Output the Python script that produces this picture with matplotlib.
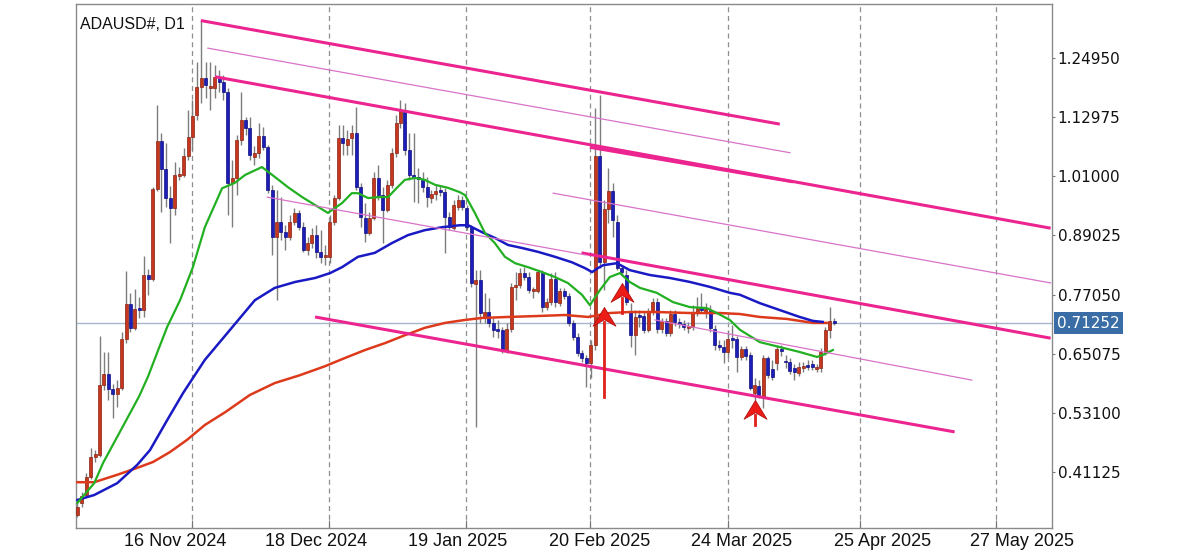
import matplotlib
matplotlib.use("Agg")
import matplotlib.pyplot as plt
import numpy as np
from matplotlib.path import Path
from matplotlib.transforms import blended_transform_factory

symbol = "ADAUSD#, D1"

# daily candles, bar index 0..171
opens = [
    0.324, 0.348, 0.364, 0.400, 0.441, 0.445, 0.587, 0.609, 0.579, 0.569,
    0.581, 0.680, 0.751, 0.703, 0.743, 0.739, 0.810, 0.802, 0.984, 1.082,
    1.025, 0.966, 0.946, 1.011, 1.013, 1.051, 1.090, 1.134, 1.191, 1.210,
    1.189, 1.189, 1.210, 1.201, 1.181, 0.997, 1.007, 1.084, 1.124, 1.108,
    1.049, 1.057, 1.092, 1.070, 0.982, 0.887, 0.918, 0.897, 0.887, 0.918,
    0.936, 0.907, 0.861, 0.875, 0.891, 0.857, 0.847, 0.847, 0.918, 0.966,
    1.088, 1.074, 1.088, 1.098, 0.988, 0.926, 0.895, 0.926, 1.007, 0.972,
    0.942, 0.993, 1.057, 1.118, 1.145, 1.064, 1.013, 1.009, 1.003, 0.988,
    0.966, 0.974, 0.982, 0.978, 0.928, 0.905, 0.948, 0.962, 0.946, 0.907,
    0.792, 0.800, 0.723, 0.735, 0.713, 0.701, 0.699, 0.658, 0.701, 0.786,
    0.790, 0.814, 0.806, 0.778, 0.778, 0.814, 0.745, 0.755, 0.802, 0.753,
    0.778, 0.768, 0.713, 0.684, 0.652, 0.642, 0.632, 0.668, 1.051, 0.836,
    0.944, 0.980, 0.918, 0.824, 0.810, 0.737, 0.688, 0.729, 0.727, 0.699,
    0.735, 0.755, 0.701, 0.717, 0.693, 0.731, 0.715, 0.711, 0.703, 0.705,
    0.733, 0.745, 0.733, 0.739, 0.701, 0.668, 0.664, 0.654, 0.682, 0.680,
    0.644, 0.660, 0.648, 0.571, 0.585, 0.563, 0.642, 0.620, 0.632, 0.660,
    0.636, 0.634, 0.622, 0.611, 0.622, 0.628, 0.630, 0.620, 0.622, 0.654,
    0.699, 0.716,
]
highs = [
    0.354, 0.370, 0.409, 0.459, 0.455, 0.686, 0.654, 0.654, 0.589, 0.597,
    0.694, 0.818, 0.774, 0.782, 0.765, 0.849, 0.822, 0.988, 1.155, 1.098,
    1.078, 0.991, 1.039, 1.029, 1.068, 1.145, 1.165, 1.242, 1.327, 1.242,
    1.242, 1.236, 1.226, 1.216, 1.189, 1.043, 1.094, 1.181, 1.130, 1.130,
    1.072, 1.118, 1.110, 1.074, 0.993, 0.982, 0.968, 0.911, 0.932, 0.946,
    0.942, 0.918, 0.887, 0.905, 0.911, 0.901, 0.871, 0.932, 0.972, 1.114,
    1.114, 1.104, 1.114, 1.151, 0.997, 0.956, 0.938, 1.019, 1.033, 0.988,
    1.003, 1.068, 1.134, 1.165, 1.159, 1.098, 1.098, 1.027, 1.019, 1.009,
    0.982, 0.993, 0.993, 0.987, 0.938, 0.962, 0.972, 0.970, 0.952, 0.911,
    0.820, 0.820, 0.774, 0.763, 0.723, 0.719, 0.705, 0.713, 0.794, 0.816,
    0.824, 0.826, 0.816, 0.786, 0.820, 0.820, 0.763, 0.814, 0.816, 0.784,
    0.784, 0.774, 0.719, 0.693, 0.658, 0.648, 0.678, 1.149, 1.175, 0.962,
    1.027, 0.997, 0.932, 0.830, 0.820, 0.753, 0.739, 0.739, 0.735, 0.743,
    0.763, 0.763, 0.723, 0.723, 0.739, 0.739, 0.723, 0.719, 0.715, 0.749,
    0.765, 0.774, 0.753, 0.749, 0.709, 0.678, 0.678, 0.699, 0.709, 0.686,
    0.666, 0.666, 0.654, 0.601, 0.597, 0.648, 0.646, 0.638, 0.668, 0.668,
    0.648, 0.642, 0.630, 0.634, 0.634, 0.638, 0.638, 0.630, 0.662, 0.705,
    0.745, 0.723,
]
lows = [
    0.320, 0.340, 0.360, 0.397, 0.431, 0.441, 0.577, 0.557, 0.520, 0.542,
    0.577, 0.672, 0.694, 0.699, 0.723, 0.725, 0.770, 0.798, 0.980, 0.938,
    0.948, 0.875, 0.932, 1.003, 1.009, 1.043, 1.064, 1.124, 1.159, 1.169,
    1.145, 1.169, 1.181, 1.165, 0.932, 0.907, 0.972, 1.074, 1.094, 1.043,
    1.033, 1.047, 1.064, 0.976, 0.851, 0.759, 0.881, 0.861, 0.881, 0.911,
    0.901, 0.857, 0.851, 0.865, 0.845, 0.834, 0.830, 0.834, 0.911, 0.962,
    1.053, 1.053, 1.053, 0.982, 0.907, 0.877, 0.891, 0.922, 0.962, 0.875,
    0.938, 0.987, 1.049, 1.108, 1.053, 1.003, 0.958, 0.956, 0.978, 0.948,
    0.956, 0.962, 0.970, 0.855, 0.901, 0.901, 0.942, 0.942, 0.901, 0.786,
    0.502, 0.713, 0.713, 0.705, 0.684, 0.682, 0.652, 0.652, 0.695, 0.759,
    0.784, 0.800, 0.774, 0.763, 0.774, 0.735, 0.739, 0.749, 0.745, 0.747,
    0.761, 0.707, 0.678, 0.646, 0.634, 0.583, 0.601, 0.658, 0.824, 0.780,
    0.915, 0.887, 0.820, 0.808, 0.749, 0.664, 0.648, 0.705, 0.693, 0.695,
    0.729, 0.693, 0.693, 0.686, 0.686, 0.707, 0.703, 0.699, 0.693, 0.699,
    0.727, 0.733, 0.723, 0.695, 0.658, 0.658, 0.632, 0.644, 0.662, 0.613,
    0.638, 0.638, 0.577, 0.557, 0.561, 0.540, 0.601, 0.597, 0.618, 0.646,
    0.622, 0.609, 0.597, 0.605, 0.613, 0.618, 0.618, 0.613, 0.613, 0.648,
    0.682, 0.709,
]
closes = [
    0.340, 0.362, 0.400, 0.441, 0.447, 0.587, 0.609, 0.579, 0.569, 0.581,
    0.680, 0.751, 0.703, 0.741, 0.739, 0.810, 0.802, 0.984, 1.082, 1.025,
    0.966, 0.946, 1.013, 1.015, 1.051, 1.090, 1.133, 1.191, 1.210, 1.195,
    1.193, 1.212, 1.201, 1.181, 0.997, 1.007, 1.084, 1.124, 1.108, 1.053,
    1.057, 1.092, 1.070, 0.982, 0.887, 0.918, 0.897, 0.887, 0.918, 0.936,
    0.907, 0.861, 0.875, 0.891, 0.857, 0.847, 0.851, 0.918, 0.966, 1.088,
    1.078, 1.086, 1.098, 0.988, 0.928, 0.895, 0.926, 1.007, 0.972, 0.942,
    0.993, 1.057, 1.118, 1.145, 1.064, 1.013, 1.007, 1.005, 0.988, 0.968,
    0.974, 0.980, 0.978, 0.928, 0.907, 0.952, 0.962, 0.948, 0.907, 0.794,
    0.800, 0.733, 0.735, 0.713, 0.699, 0.697, 0.658, 0.701, 0.786, 0.790,
    0.814, 0.806, 0.780, 0.782, 0.816, 0.745, 0.755, 0.802, 0.755, 0.778,
    0.768, 0.713, 0.684, 0.652, 0.642, 0.632, 0.668, 1.051, 0.836, 0.944,
    0.980, 0.922, 0.824, 0.816, 0.755, 0.688, 0.725, 0.725, 0.699, 0.735,
    0.755, 0.701, 0.717, 0.693, 0.731, 0.715, 0.711, 0.705, 0.707, 0.733,
    0.743, 0.739, 0.741, 0.703, 0.668, 0.664, 0.654, 0.680, 0.678, 0.644,
    0.660, 0.646, 0.581, 0.587, 0.567, 0.642, 0.607, 0.603, 0.660, 0.656,
    0.634, 0.615, 0.613, 0.624, 0.626, 0.624, 0.624, 0.624, 0.654, 0.699,
    0.717, 0.71252,
]

# moving averages (bar index, price)
ma_fast_x = [0, 3.8, 5.8, 9.0, 11.9, 14.0, 16.0, 18.0, 20.3, 23.2, 26.1, 28.8, 32.7,
             35.6, 37.9, 41.7, 44.6, 47.6, 50.8, 53.7, 56.6, 59.8, 62.0, 63.4,
             65.7, 67.9, 70.2, 72.2, 74.0, 76.3, 78.5, 80.8, 83.7, 86.4, 87.6,
             89.8, 92.1, 94.3, 96.6, 98.9, 101.8, 105.0, 107.9, 110.8, 114.0,
             115.8, 118.1, 120.3, 122.6, 124.8, 127.1, 130.9, 134.6, 138.4,
             142.2, 144.5, 147.4, 149.7, 154.2, 158.7, 163.2, 167.1, 168.4, 170.7]
ma_fast_y = [0.348, 0.388, 0.429, 0.482, 0.530, 0.565, 0.605, 0.652, 0.705, 0.759, 0.826,
             0.907, 0.986, 0.997, 1.013, 1.029, 1.009, 0.988, 0.968, 0.952, 0.936,
             0.956, 0.976, 0.976, 0.966, 0.968, 0.968, 0.987, 1.003, 1.007, 1.003,
             0.993, 0.987, 0.978, 0.972, 0.936, 0.895, 0.875, 0.847, 0.834, 0.826,
             0.816, 0.806, 0.794, 0.770, 0.749, 0.780, 0.806, 0.814, 0.796, 0.784,
             0.774, 0.755, 0.745, 0.743, 0.733, 0.719, 0.699, 0.674, 0.664, 0.654,
             0.644, 0.648, 0.658]

ma_mid_x = [0, 3.8, 9.0, 13.5, 16.4, 20.3, 23.9, 28.8, 34.5, 40.1, 44.6, 49.2,
            53.7, 57.1, 59.8, 63.4, 67.2, 71.1, 74.7, 78.5, 82.4, 86.4, 88.3,
            91.4, 94.4, 97.3, 100.4, 104.1, 107.9, 111.7, 114.7, 116.3, 117.6,
            118.8, 121.9, 124.8, 129.4, 133.9, 138.4, 142.9, 147.4, 149.7,
            154.2, 158.7, 163.2, 166.2, 168.4]
ma_mid_y = [0.354, 0.364, 0.388, 0.425, 0.455, 0.516, 0.571, 0.638, 0.699, 0.759,
            0.784, 0.796, 0.804, 0.814, 0.826, 0.847, 0.855, 0.875, 0.891, 0.901,
            0.907, 0.911, 0.911, 0.897, 0.885, 0.871, 0.865, 0.857, 0.847, 0.836,
            0.824, 0.816, 0.824, 0.830, 0.834, 0.820, 0.810, 0.804, 0.796, 0.786,
            0.774, 0.770, 0.753, 0.739, 0.725, 0.717, 0.715]

ma_slow_x = [0, 3.8, 9.0, 13.5, 17.1, 20.9, 24.8, 28.8, 33.4, 39.0, 44.6, 50.3,
             55.9, 60.5, 65.0, 69.5, 74.0, 78.5, 83.1, 87.6, 91.4, 97.3, 104.1,
             110.2, 115.4, 120.3, 124.8, 130.9, 138.4, 145.2, 149.7, 154.2,
             160.3, 166.2, 169.3]
ma_slow_y = [0.390, 0.390, 0.405, 0.419, 0.431, 0.451, 0.476, 0.506, 0.532, 0.567,
             0.591, 0.607, 0.625, 0.642, 0.658, 0.672, 0.688, 0.703, 0.713, 0.719,
             0.723, 0.725, 0.727, 0.729, 0.725, 0.733, 0.735, 0.735, 0.733, 0.733,
             0.731, 0.725, 0.721, 0.713, 0.713]

# trend lines drawn on the chart: (x0, p0, x1, p1)
thick_lines = [
    (27.9, 1.326, 158.7, 1.116),
    (31.1, 1.212, 219.9, 0.905),
    (115.8, 1.069, 161.7, 0.999),
    (113.9, 0.855, 219.9, 0.682),
    (53.7, 0.725, 198.2, 0.492),
]
thin_lines = [
    (29.5, 1.270, 161.0, 1.058),
    (107.5, 0.976, 219.9, 0.794),
    (42.9, 0.968, 114.7, 0.851),
    (130.5, 0.719, 202.1, 0.597),
]

# arrows: (bar, tip price, stem end price)
arrow_marks = [(119.0, 0.745, 0.563), (123.0, 0.794, 0.733), (153.1, 0.557, 0.506)]

last_price = 0.71252
price_ticks = [1.24950, 1.12975, 1.01000, 0.89025, 0.77050, 0.65075, 0.53100, 0.41125]
grid_pos = [26.0, 56.9, 87.8, 115.8, 146.9, 176.9, 207.5]
date_pos = [22, 54, 86, 118, 150, 182, 213.5]
date_labels = ["16 Nov 2024", "18 Dec 2024", "19 Jan 2025", "20 Feb 2025",
               "24 Mar 2025", "25 Apr 2025", "27 May 2025"]

bull_color = "#c5371f"
bear_color = "#1d1db8"
pink = "#ec2490"
pink_thin = "#d873c8"

fig = plt.figure(figsize=(11.99, 5.54), dpi=100)
fig.patch.set_facecolor("white")
ax = fig.add_axes([0.0638, 0.0478, 0.8132, 0.945])

o = np.array(opens)
h = np.array(highs)
l = np.array(lows)
c = np.array(closes)
idx = np.arange(len(o))
up = c >= o

ax.axhline(last_price, color="#a6b6c8", lw=1, zorder=1)

ax.vlines(idx, l, h, color="#7d7d7d", lw=1, zorder=2)
body_low = np.minimum(o, c)
body_h = np.maximum(np.abs(c - o), 0.0025)
ax.bar(idx[up], body_h[up], bottom=body_low[up], width=0.68,
       color=bull_color, edgecolor="#8a2412", linewidth=0.5, zorder=3)
ax.bar(idx[~up], body_h[~up], bottom=body_low[~up], width=0.68,
       color=bear_color, edgecolor="#0e0e80", linewidth=0.5, zorder=3)

ax.plot(ma_slow_x, ma_slow_y, color="#dd3a1c", lw=1.8, zorder=4)
ax.plot(ma_mid_x, ma_mid_y, color="#1a1ac4", lw=1.8, zorder=4)
ax.plot(ma_fast_x, ma_fast_y, color="#22b022", lw=1.6, zorder=4)

for x0, y0, x1, y1 in thick_lines:
    ax.plot([x0, x1], [y0, y1], color=pink, lw=2.2, zorder=5, solid_capstyle="butt")
for x0, y0, x1, y1 in thin_lines:
    ax.plot([x0, x1], [y0, y1], color=pink_thin, lw=0.9, zorder=5)

arrow_path = Path(
    [(0, 0), (0.61, -1), (0, -0.65), (-0.61, -1), (0, 0)],
    [Path.MOVETO, Path.LINETO, Path.LINETO, Path.LINETO, Path.CLOSEPOLY],
)
for bx, tip, stem in arrow_marks:
    ax.plot([bx, bx], [tip - 0.03, stem], color="#e0201a", lw=2, zorder=6)
    ax.plot([bx], [tip], marker=arrow_path, markersize=27, color="#ee1c16",
            markeredgecolor="#b01010", markeredgewidth=0.6, zorder=7)

ax.set_xlim(-0.2, 220.1)
ax.set_ylim(0.2981, 1.3596)

ax.yaxis.tick_right()
ax.set_yticks(price_ticks)
ax.set_yticklabels([f"{v:.5f}" for v in price_ticks])
ax.tick_params(axis="y", direction="out", length=2.5, width=0.8, color="#777777",
               pad=2, labelsize=11, labelcolor="#111111")

ax.set_xticks(grid_pos)
ax.set_xticklabels([])
ax.set_xticks(date_pos, minor=True)
ax.set_xticklabels(date_labels, minor=True, fontsize=13, family="Liberation Sans",
                   color="#111111")
ax.tick_params(axis="x", which="major", direction="in", length=6, width=0.8, color="#777777")
ax.tick_params(axis="x", which="minor", length=0, pad=4)
ax.grid(axis="x", which="major", linestyle=(0, (4, 3)), color="#8f8f8f", lw=0.9)
ax.set_axisbelow(True)

for sp in ax.spines.values():
    sp.set_color("#8a8a8a")
    sp.set_linewidth(1)

ax.text(0.004, 0.975, symbol, transform=ax.transAxes, ha="left", va="top",
        fontsize=11.5, family="Liberation Sans", color="#111111")

trans = blended_transform_factory(ax.transAxes, ax.transData)
ax.text(1.0058, last_price, f"{last_price:.5f}", transform=trans, ha="left", va="center",
        fontsize=11, color="white", clip_on=False, zorder=10,
        bbox=dict(boxstyle="square,pad=0.22", fc="#3a6da5", ec="none"))

fig.savefig("out.png", dpi=100)
